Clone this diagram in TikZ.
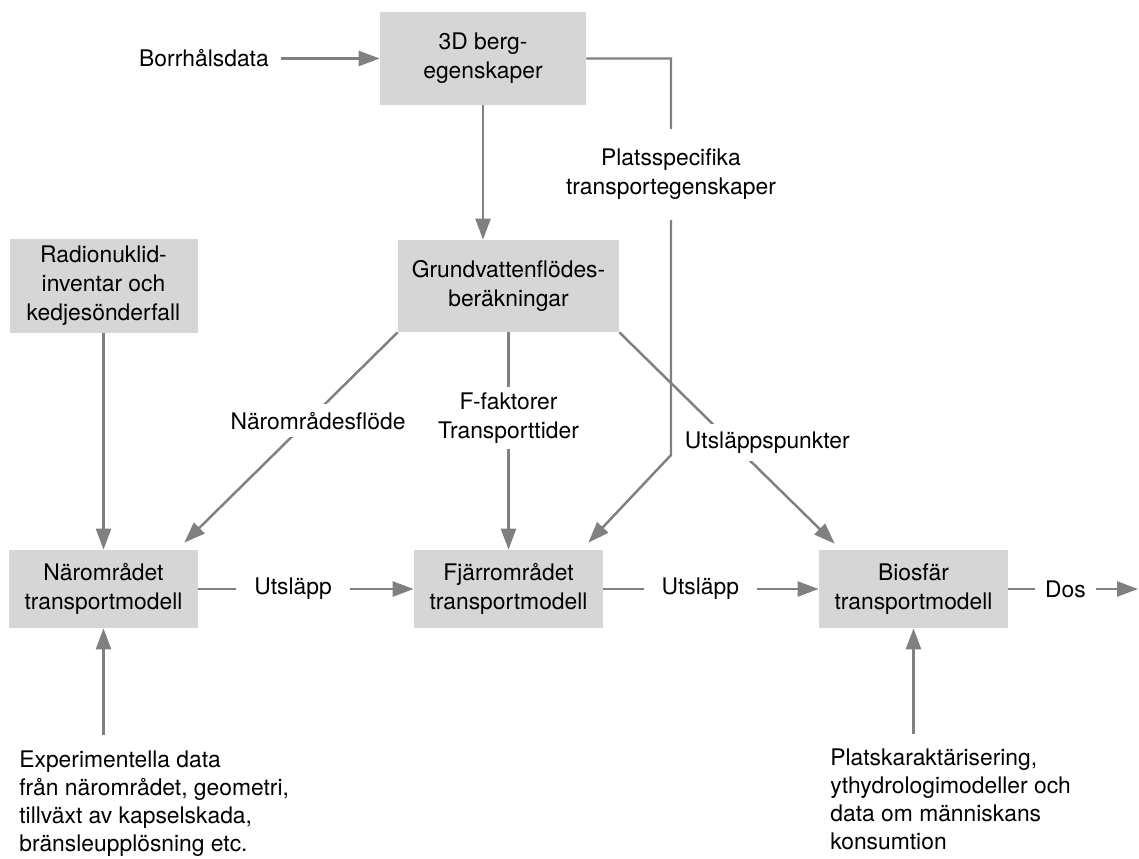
\documentclass[tikz,border=0pt]{standalone}
\usepackage{fontspec}
\setmainfont{TeX Gyre Heros}
\usetikzlibrary{arrows.meta}
\definecolor{boxgray}{RGB}{214,214,214}
\definecolor{linegray}{RGB}{128,128,128}
\tikzstyle{model} = [rectangle, minimum width=3.78cm, minimum height=1.56cm, align=center, fill=boxgray]
\tikzstyle{input} = [rectangle, minimum width=4.12cm, minimum height=1.86cm, align=center, fill=boxgray]
\tikzstyle{info} = [align=left, inner sep=0pt, font=\fontsize{13}{16}\selectfont]
\tikzstyle{flow} = [fill=white, align=center, inner xsep=0.3cm, inner ysep=0.15cm]
\tikzstyle{arrow} = [line width=1.4pt, draw=linegray, ->, >={Triangle[length=0.42cm,width=0.3cm]}]

\begin{document}
\begin{tikzpicture}[node distance=8.1cm, every node/.style={font=\fontsize{13}{16.5}\selectfont}]
\useasboundingbox (0,0) rectangle (22.78,-17.18);

\node (near) [model] at (2.07,-11.78) {Närområdet\\transportmodell};
\node (far) [model, right of=near] {Fjärrområdet\\transportmodell};
\node (bio) [model, right of=far] {Biosfär\\transportmodell};
\node (gw) [input, above of=far, yshift=-2.04cm, minimum width=4.42cm, minimum height=1.84cm] {Grundvattenflödes-\\beräkningar};
\node (radio) [input, left of=gw, minimum width=3.76cm] {Radionuklid-\\inventar och\\kedjesönderfall};
\node (rock) [input, above of=gw, xshift=-0.51cm, yshift=-3.55cm] {3D berg-\\egenskaper};
\node (borr) [left of=rock, xshift=2.52cm, inner xsep=0.24cm] {Borrhålsdata};
\node (exp) [info, anchor=north west] at (0.38,-15.0) {Experimentella data\\från närområdet, geometri,\\tillväxt av kapselskada,\\bränsleupplösning etc.};
\node (plats) [info, anchor=north west] at (16.6,-14.96) {Platskaraktärisering,\\ythydrologimodeller och\\data om människans\\konsumtion};
\coordinate (bend) at (13.42,-9.1);
\coordinate (dose) at (22.76,-11.78);

\draw [arrow] (borr) -- (rock);
\draw [arrow] (rock.south) -- (rock.south |- gw.north);
\draw [arrow] (rock.east) -| (bend) node[flow, pos=0.646, inner ysep=0.4cm] {Platsspecifika\\transportegenskaper} -- ([shift={(-0.3cm,0.14cm)}]far.north east);
\draw [arrow] (radio) -- (near);
\draw [arrow] (gw.south west) -- node[flow, pos=0.42, xshift=0.2cm] {Närområdesflöde} ([shift={(-0.28cm,0.14cm)}]near.north east);
\draw [arrow] (gw) -- node[flow, pos=0.394, inner ysep=0.11cm] {F-faktorer\\Transporttider} (far);
\draw [arrow] (gw.south east) -- node[flow, pos=0.52, xshift=0.72cm, inner xsep=0.1cm] {Utsläppspunkter} ([shift={(0.32cm,0.12cm)}]bio.north west);
\draw [arrow] (near) -- node[flow, pos=0.44, inner xsep=0.36cm] {Utsläpp} (far);
\draw [arrow] (far) -- node[flow, pos=0.45, inner xsep=0.36cm] {Utsläpp} (bio);
\draw [arrow] (bio) -- node[flow, pos=0.44, inner xsep=0.2cm] {Dos} (dose);
\draw [arrow] ([yshift=0.3cm]exp.north -| near.south) -- (near);
\draw [arrow] ([yshift=0.28cm]plats.north -| bio.south) -- (bio);

\end{tikzpicture}
\end{document}
